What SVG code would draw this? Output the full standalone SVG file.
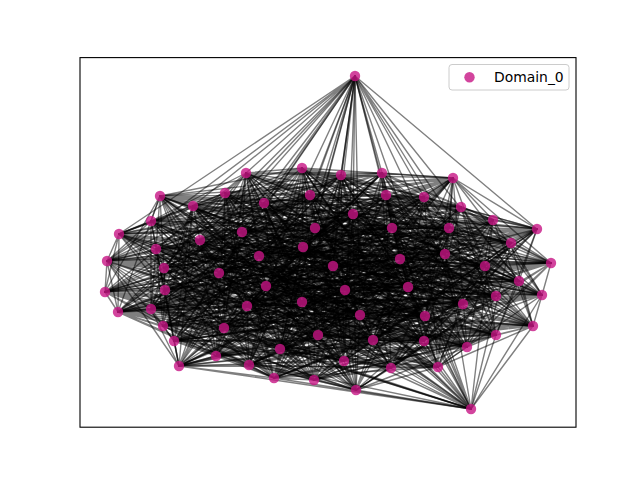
<svg xmlns="http://www.w3.org/2000/svg" width="640" height="480" viewBox="0 0 640 480">
<style>
.e{fill:none;stroke:#000;stroke-opacity:0.5;stroke-width:1.4;stroke-linejoin:round}
.n{fill:#C71585;fill-opacity:0.8}
.t{font-family:"DejaVu Sans","Liberation Sans",sans-serif;font-size:13.9px;fill:#000}
</style>
<rect x="0" y="0" width="640" height="480" fill="#fff"/>
<g id="edges">
<polyline class="e" points="355,76 246,173 355,76 341,175 355,76 382,173 355,76 193,206 355,76 264,203 355,76 310,195 355,76 424,197 355,76 537,229 355,76 119,234 355,76 200,240 355,76 353,214 355,76 449,228 355,76 107,261 355,76 219,273 355,76 303,247 355,76 333,266 355,76 485,266"/>
<polyline class="e" points="246,173 302,168 246,173 382,173 246,173 453,178 246,173 225,193 246,173 310,195 246,173 386,195 246,173 461,207 246,173 151,221 246,173 156,249 246,173 242,232 246,173 392,228 246,173 511,243 246,173 164,268 246,173 259,256 246,173 333,266 246,173 400,259 246,173 551,263"/>
<polyline class="e" points="302,168 341,175 302,168 453,178 302,168 160,196 302,168 264,203 302,168 386,195 302,168 424,197 302,168 493,220 302,168 119,234 302,168 200,240 302,168 315,228 302,168 449,228 302,168 107,261 302,168 219,273 302,168 303,247 302,168 400,259 302,168 445,254 302,168 105,292"/>
<polyline class="e" points="341,175 382,173 341,175 160,196 341,175 193,206 341,175 310,195 341,175 424,197 341,175 461,207 341,175 537,229 341,175 156,249 341,175 242,232 341,175 353,214 341,175 511,243 341,175 164,268 341,175 259,256 341,175 333,266 341,175 445,254 341,175 485,266 341,175 165,290"/>
<polyline class="e" points="382,173 453,178 382,173 193,206 382,173 225,193 382,173 386,195 382,173 461,207 382,173 493,220 382,173 151,221 382,173 200,240 382,173 315,228 382,173 392,228 382,173 107,261 382,173 219,273 382,173 303,247 382,173 400,259 382,173 485,266 382,173 551,263 382,173 266,286"/>
<polyline class="e" points="453,178 160,196 453,178 225,193 453,178 264,203 453,178 424,197 453,178 493,220 453,178 537,229 453,178 119,234 453,178 242,232 453,178 353,214 453,178 449,228 453,178 164,268 453,178 259,256 453,178 333,266 453,178 445,254 453,178 551,263 453,178 105,292 453,178 345,290"/>
<polyline class="e" points="160,196 193,206 160,196 264,203 160,196 310,195 160,196 461,207 160,196 537,229 160,196 151,221 160,196 156,249 160,196 315,228 160,196 392,228 160,196 511,243 160,196 219,273 160,196 303,247 160,196 400,259 160,196 485,266 160,196 105,292 160,196 165,290 160,196 408,287"/>
<polyline class="e" points="193,206 225,193 193,206 310,195 193,206 386,195 193,206 493,220 193,206 151,221 193,206 119,234 193,206 200,240 193,206 353,214 193,206 449,228 193,206 107,261 193,206 259,256 193,206 333,266 193,206 445,254 193,206 551,263 193,206 165,290 193,206 266,286 193,206 519,281"/>
<polyline class="e" points="225,193 264,203 225,193 386,195 225,193 424,197 225,193 537,229 225,193 119,234 225,193 156,249 225,193 242,232 225,193 392,228 225,193 511,243 225,193 164,268 225,193 303,247 225,193 400,259 225,193 485,266 225,193 105,292 225,193 266,286 225,193 345,290 225,193 542,295"/>
<polyline class="e" points="264,203 310,195 264,203 424,197 264,203 461,207 264,203 151,221 264,203 156,249 264,203 200,240 264,203 315,228 264,203 449,228 264,203 107,261 264,203 219,273 264,203 333,266 264,203 445,254 264,203 551,263 264,203 165,290 264,203 345,290 264,203 408,287 264,203 118,312"/>
<polyline class="e" points="310,195 386,195 310,195 461,207 310,195 493,220 310,195 119,234 310,195 200,240 310,195 242,232 310,195 353,214 310,195 511,243 310,195 164,268 310,195 259,256 310,195 400,259 310,195 485,266 310,195 105,292 310,195 266,286 310,195 408,287 310,195 519,281 310,195 151,309"/>
<polyline class="e" points="386,195 424,197 386,195 493,220 386,195 537,229 386,195 156,249 386,195 242,232 386,195 315,228 386,195 392,228 386,195 107,261 386,195 219,273 386,195 303,247 386,195 445,254 386,195 551,263 386,195 165,290 386,195 345,290 386,195 519,281 386,195 542,295 386,195 247,306"/>
<polyline class="e" points="424,197 461,207 424,197 537,229 424,197 151,221 424,197 200,240 424,197 315,228 424,197 353,214 424,197 449,228 424,197 164,268 424,197 259,256 424,197 333,266 424,197 485,266 424,197 105,292 424,197 266,286 424,197 408,287 424,197 542,295 424,197 118,312 424,197 302,302"/>
<polyline class="e" points="461,207 493,220 461,207 151,221 461,207 119,234 461,207 242,232 461,207 353,214 461,207 392,228 461,207 511,243 461,207 219,273 461,207 303,247 461,207 400,259 461,207 551,263 461,207 165,290 461,207 345,290 461,207 519,281 461,207 118,312 461,207 151,309 461,207 360,315"/>
<polyline class="e" points="493,220 537,229 493,220 119,234 493,220 156,249 493,220 315,228 493,220 392,228 493,220 449,228 493,220 107,261 493,220 259,256 493,220 333,266 493,220 445,254 493,220 105,292 493,220 266,286 493,220 408,287 493,220 542,295 493,220 151,309 493,220 247,306 493,220 425,316"/>
<polyline class="e" points="537,229 151,221 537,229 156,249 537,229 200,240 537,229 353,214 537,229 449,228 537,229 511,243 537,229 164,268 537,229 303,247 537,229 400,259 537,229 485,266 537,229 165,290 537,229 345,290 537,229 519,281 537,229 118,312 537,229 247,306 537,229 302,302 537,229 463,304"/>
<polyline class="e" points="151,221 119,234 151,221 200,240 151,221 242,232 151,221 392,228 151,221 511,243 151,221 107,261 151,221 219,273 151,221 333,266 151,221 445,254 151,221 551,263 151,221 266,286 151,221 408,287 151,221 542,295 151,221 151,309 151,221 302,302 151,221 360,315 151,221 496,296"/>
<polyline class="e" points="119,234 156,249 119,234 242,232 119,234 315,228 119,234 449,228 119,234 107,261 119,234 164,268 119,234 259,256 119,234 400,259 119,234 485,266 119,234 105,292 119,234 345,290 119,234 519,281 119,234 118,312 119,234 247,306 119,234 360,315 119,234 425,316 119,234 533,326"/>
<polyline class="e" points="156,249 200,240 156,249 315,228 156,249 353,214 156,249 511,243 156,249 164,268 156,249 219,273 156,249 303,247 156,249 445,254 156,249 551,263 156,249 165,290 156,249 408,287 156,249 542,295 156,249 151,309 156,249 302,302 156,249 425,316 156,249 463,304 156,249 163,326"/>
<polyline class="e" points="200,240 242,232 200,240 353,214 200,240 392,228 200,240 107,261 200,240 219,273 200,240 259,256 200,240 333,266 200,240 485,266 200,240 105,292 200,240 266,286 200,240 519,281 200,240 118,312 200,240 247,306 200,240 360,315 200,240 463,304 200,240 496,296 200,240 224,328"/>
<polyline class="e" points="242,232 315,228 242,232 392,228 242,232 449,228 242,232 164,268 242,232 259,256 242,232 303,247 242,232 400,259 242,232 551,263 242,232 165,290 242,232 345,290 242,232 542,295 242,232 151,309 242,232 302,302 242,232 425,316 242,232 496,296 242,232 533,326 242,232 318,335"/>
<polyline class="e" points="315,228 353,214 315,228 449,228 315,228 511,243 315,228 219,273 315,228 303,247 315,228 333,266 315,228 445,254 315,228 105,292 315,228 266,286 315,228 408,287 315,228 118,312 315,228 247,306 315,228 360,315 315,228 463,304 315,228 533,326 315,228 163,326 315,228 373,340"/>
<polyline class="e" points="353,214 392,228 353,214 511,243 353,214 107,261 353,214 259,256 353,214 333,266 353,214 400,259 353,214 485,266 353,214 165,290 353,214 345,290 353,214 519,281 353,214 151,309 353,214 302,302 353,214 425,316 353,214 496,296 353,214 163,326 353,214 224,328 353,214 424,341"/>
<polyline class="e" points="392,228 449,228 392,228 107,261 392,228 164,268 392,228 303,247 392,228 400,259 392,228 445,254 392,228 551,263 392,228 266,286 392,228 408,287 392,228 542,295 392,228 247,306 392,228 360,315 392,228 463,304 392,228 533,326 392,228 224,328 392,228 318,335 392,228 467,347"/>
<polyline class="e" points="449,228 511,243 449,228 164,268 449,228 219,273 449,228 333,266 449,228 445,254 449,228 485,266 449,228 105,292 449,228 345,290 449,228 519,281 449,228 118,312 449,228 302,302 449,228 425,316 449,228 496,296 449,228 163,326 449,228 318,335 449,228 373,340 449,228 496,335"/>
<polyline class="e" points="511,243 107,261 511,243 219,273 511,243 259,256 511,243 400,259 511,243 485,266 511,243 551,263 511,243 165,290 511,243 408,287 511,243 542,295 511,243 151,309 511,243 360,315 511,243 463,304 511,243 533,326 511,243 224,328 511,243 373,340 511,243 424,341 511,243 174,341"/>
<polyline class="e" points="107,261 164,268 107,261 259,256 107,261 303,247 107,261 445,254 107,261 551,263 107,261 105,292 107,261 266,286 107,261 519,281 107,261 118,312 107,261 247,306 107,261 425,316 107,261 496,296 107,261 163,326 107,261 318,335 107,261 424,341 107,261 467,347 107,261 216,356"/>
<polyline class="e" points="164,268 219,273 164,268 303,247 164,268 333,266 164,268 485,266 164,268 105,292 164,268 165,290 164,268 345,290 164,268 542,295 164,268 151,309 164,268 302,302 164,268 463,304 164,268 533,326 164,268 224,328 164,268 373,340 164,268 467,347 164,268 496,335 164,268 280,349"/>
<polyline class="e" points="219,273 259,256 219,273 333,266 219,273 400,259 219,273 551,263 219,273 165,290 219,273 266,286 219,273 408,287 219,273 118,312 219,273 247,306 219,273 360,315 219,273 496,296 219,273 163,326 219,273 318,335 219,273 424,341 219,273 496,335 219,273 174,341 219,273 344,361"/>
<polyline class="e" points="259,256 303,247 259,256 400,259 259,256 445,254 259,256 105,292 259,256 266,286 259,256 345,290 259,256 519,281 259,256 151,309 259,256 302,302 259,256 425,316 259,256 533,326 259,256 224,328 259,256 373,340 259,256 467,347 259,256 174,341 259,256 216,356 259,256 179,366"/>
<polyline class="e" points="303,247 333,266 303,247 445,254 303,247 485,266 303,247 165,290 303,247 345,290 303,247 408,287 303,247 542,295 303,247 247,306 303,247 360,315 303,247 463,304 303,247 163,326 303,247 318,335 303,247 424,341 303,247 496,335 303,247 216,356 303,247 280,349 303,247 249,365"/>
<polyline class="e" points="333,266 400,259 333,266 485,266 333,266 551,263 333,266 266,286 333,266 408,287 333,266 519,281 333,266 118,312 333,266 302,302 333,266 425,316 333,266 496,296 333,266 224,328 333,266 373,340 333,266 467,347 333,266 174,341 333,266 280,349 333,266 344,361 333,266 391,368"/>
<polyline class="e" points="400,259 445,254 400,259 551,263 400,259 105,292 400,259 345,290 400,259 519,281 400,259 542,295 400,259 151,309 400,259 360,315 400,259 463,304 400,259 533,326 400,259 318,335 400,259 424,341 400,259 496,335 400,259 216,356 400,259 344,361 400,259 179,366 400,259 438,367"/>
<polyline class="e" points="445,254 485,266 445,254 105,292 445,254 165,290 445,254 408,287 445,254 542,295 445,254 118,312 445,254 247,306 445,254 425,316 445,254 496,296 445,254 163,326 445,254 373,340 445,254 467,347 445,254 174,341 445,254 280,349 445,254 179,366 445,254 249,365 445,254 274,378"/>
<polyline class="e" points="485,266 551,263 485,266 165,290 485,266 266,286 485,266 519,281 485,266 118,312 485,266 151,309 485,266 302,302 485,266 463,304 485,266 533,326 485,266 224,328 485,266 424,341 485,266 496,335 485,266 216,356 485,266 344,361 485,266 249,365 485,266 391,368 485,266 314,380"/>
<polyline class="e" points="551,263 105,292 551,263 266,286 551,263 345,290 551,263 542,295 551,263 151,309 551,263 247,306 551,263 360,315 551,263 496,296 551,263 163,326 551,263 318,335 551,263 467,347 551,263 174,341 551,263 280,349 551,263 179,366 551,263 391,368 551,263 438,367 551,263 356,390"/>
<polyline class="e" points="105,292 165,290 105,292 345,290 105,292 408,287 105,292 118,312 105,292 247,306 105,292 302,302 105,292 425,316 105,292 533,326 105,292 224,328 105,292 373,340 105,292 496,335 105,292 216,356 105,292 344,361 105,292 249,365 105,292 438,367 105,292 274,378 105,292 471,409"/>
<polyline class="e" points="165,290 266,286 165,290 408,287 165,290 519,281 165,290 151,309 165,290 302,302 165,290 360,315 165,290 463,304 165,290 163,326 165,290 318,335 165,290 424,341 165,290 174,341 165,290 280,349 165,290 179,366 165,290 391,368 165,290 274,378 165,290 314,380 165,290 355,76"/>
<polyline class="e" points="266,286 345,290 266,286 519,281 266,286 542,295 266,286 247,306 266,286 360,315 266,286 425,316 266,286 496,296 266,286 224,328 266,286 373,340 266,286 467,347 266,286 216,356 266,286 344,361 266,286 249,365 266,286 438,367 266,286 314,380 266,286 356,390 266,286 246,173"/>
<polyline class="e" points="345,290 408,287 345,290 542,295 345,290 118,312 345,290 302,302 345,290 425,316 345,290 463,304 345,290 533,326 345,290 318,335 345,290 424,341 345,290 496,335 345,290 280,349 345,290 179,366 345,290 391,368 345,290 274,378 345,290 356,390 345,290 471,409 345,290 302,168"/>
<polyline class="e" points="408,287 519,281 408,287 118,312 408,287 151,309 408,287 360,315 408,287 463,304 408,287 496,296 408,287 163,326 408,287 373,340 408,287 467,347 408,287 174,341 408,287 344,361 408,287 249,365 408,287 438,367 408,287 314,380 408,287 471,409 408,287 355,76 408,287 341,175"/>
<polyline class="e" points="519,281 542,295 519,281 151,309 519,281 247,306 519,281 425,316 519,281 496,296 519,281 533,326 519,281 224,328 519,281 424,341 519,281 496,335 519,281 216,356 519,281 179,366 519,281 391,368 519,281 274,378 519,281 356,390 519,281 355,76 519,281 246,173 519,281 382,173"/>
<polyline class="e" points="542,295 118,312 542,295 247,306 542,295 302,302 542,295 463,304 542,295 533,326 542,295 163,326 542,295 318,335 542,295 467,347 542,295 174,341 542,295 280,349 542,295 249,365 542,295 438,367 542,295 314,380 542,295 471,409 542,295 246,173 542,295 302,168 542,295 453,178"/>
<polyline class="e" points="118,312 151,309 118,312 302,302 118,312 360,315 118,312 496,296 118,312 163,326 118,312 224,328 118,312 373,340 118,312 496,335 118,312 216,356 118,312 344,361 118,312 391,368 118,312 274,378 118,312 356,390 118,312 355,76 118,312 302,168 118,312 341,175 118,312 160,196"/>
<polyline class="e" points="151,309 247,306 151,309 360,315 151,309 425,316 151,309 533,326 151,309 224,328 151,309 318,335 151,309 424,341 151,309 174,341 151,309 280,349 151,309 179,366 151,309 438,367 151,309 314,380 151,309 471,409 151,309 246,173 151,309 341,175 151,309 382,173 151,309 193,206"/>
<polyline class="e" points="247,306 302,302 247,306 425,316 247,306 463,304 247,306 163,326 247,306 318,335 247,306 373,340 247,306 467,347 247,306 216,356 247,306 344,361 247,306 249,365 247,306 274,378 247,306 356,390 247,306 355,76 247,306 302,168 247,306 382,173 247,306 453,178 247,306 225,193"/>
<polyline class="e" points="302,302 360,315 302,302 463,304 302,302 496,296 302,302 224,328 302,302 373,340 302,302 424,341 302,302 496,335 302,302 280,349 302,302 179,366 302,302 391,368 302,302 314,380 302,302 471,409 302,302 246,173 302,302 341,175 302,302 453,178 302,302 160,196 302,302 264,203"/>
<polyline class="e" points="360,315 425,316 360,315 496,296 360,315 533,326 360,315 318,335 360,315 424,341 360,315 467,347 360,315 174,341 360,315 344,361 360,315 249,365 360,315 438,367 360,315 356,390 360,315 355,76 360,315 302,168 360,315 382,173 360,315 160,196 360,315 193,206 360,315 310,195"/>
<polyline class="e" points="425,316 463,304 425,316 533,326 425,316 163,326 425,316 373,340 425,316 467,347 425,316 496,335 425,316 216,356 425,316 179,366 425,316 391,368 425,316 274,378 425,316 471,409 425,316 246,173 425,316 341,175 425,316 453,178 425,316 193,206 425,316 225,193 425,316 386,195"/>
<polyline class="e" points="463,304 496,296 463,304 163,326 463,304 224,328 463,304 424,341 463,304 496,335 463,304 174,341 463,304 280,349 463,304 249,365 463,304 438,367 463,304 314,380 463,304 355,76 463,304 302,168 463,304 382,173 463,304 160,196 463,304 225,193 463,304 264,203 463,304 424,197"/>
<polyline class="e" points="496,296 533,326 496,296 224,328 496,296 318,335 496,296 467,347 496,296 174,341 496,296 216,356 496,296 344,361 496,296 391,368 496,296 274,378 496,296 356,390 496,296 246,173 496,296 341,175 496,296 453,178 496,296 193,206 496,296 264,203 496,296 310,195 496,296 461,207"/>
<polyline class="e" points="533,326 163,326 533,326 318,335 533,326 373,340 533,326 496,335 533,326 216,356 533,326 280,349 533,326 179,366 533,326 438,367 533,326 314,380 533,326 471,409 533,326 302,168 533,326 382,173 533,326 160,196 533,326 225,193 533,326 310,195 533,326 386,195 533,326 493,220"/>
<polyline class="e" points="163,326 224,328 163,326 373,340 163,326 424,341 163,326 174,341 163,326 280,349 163,326 344,361 163,326 249,365 163,326 274,378 163,326 356,390 163,326 355,76 163,326 341,175 163,326 453,178 163,326 193,206 163,326 264,203 163,326 386,195 163,326 424,197 163,326 537,229"/>
<polyline class="e" points="224,328 318,335 224,328 424,341 224,328 467,347 224,328 216,356 224,328 344,361 224,328 179,366 224,328 391,368 224,328 314,380 224,328 471,409 224,328 246,173 224,328 382,173 224,328 160,196 224,328 225,193 224,328 310,195 224,328 424,197 224,328 461,207 224,328 151,221"/>
<polyline class="e" points="318,335 373,340 318,335 467,347 318,335 496,335 318,335 280,349 318,335 179,366 318,335 249,365 318,335 438,367 318,335 356,390 318,335 355,76 318,335 302,168 318,335 453,178 318,335 193,206 318,335 264,203 318,335 386,195 318,335 461,207 318,335 493,220 318,335 119,234"/>
<polyline class="e" points="373,340 424,341 373,340 496,335 373,340 174,341 373,340 344,361 373,340 249,365 373,340 391,368 373,340 274,378 373,340 471,409 373,340 246,173 373,340 341,175 373,340 160,196 373,340 225,193 373,340 310,195 373,340 424,197 373,340 493,220 373,340 537,229 373,340 156,249"/>
<polyline class="e" points="424,341 467,347 424,341 174,341 424,341 216,356 424,341 179,366 424,341 391,368 424,341 438,367 424,341 314,380 424,341 355,76 424,341 302,168 424,341 382,173 424,341 193,206 424,341 264,203 424,341 386,195 424,341 461,207 424,341 537,229 424,341 151,221 424,341 200,240"/>
<polyline class="e" points="467,347 496,335 467,347 216,356 467,347 280,349 467,347 249,365 467,347 438,367 467,347 274,378 467,347 356,390 467,347 246,173 467,347 341,175 467,347 453,178 467,347 225,193 467,347 310,195 467,347 424,197 467,347 493,220 467,347 151,221 467,347 119,234 467,347 242,232"/>
<polyline class="e" points="496,335 174,341 496,335 280,349 496,335 344,361 496,335 391,368 496,335 274,378 496,335 314,380 496,335 471,409 496,335 302,168 496,335 382,173 496,335 160,196 496,335 264,203 496,335 386,195 496,335 461,207 496,335 537,229 496,335 119,234 496,335 156,249 496,335 315,228"/>
<polyline class="e" points="174,341 216,356 174,341 344,361 174,341 179,366 174,341 438,367 174,341 314,380 174,341 356,390 174,341 355,76 174,341 341,175 174,341 453,178 174,341 193,206 174,341 310,195 174,341 424,197 174,341 493,220 174,341 151,221 174,341 156,249 174,341 200,240 174,341 353,214"/>
<polyline class="e" points="216,356 280,349 216,356 179,366 216,356 249,365 216,356 274,378 216,356 356,390 216,356 471,409 216,356 246,173 216,356 382,173 216,356 160,196 216,356 225,193 216,356 386,195 216,356 461,207 216,356 537,229 216,356 119,234 216,356 200,240 216,356 242,232 216,356 392,228"/>
<polyline class="e" points="280,349 344,361 280,349 249,365 280,349 391,368 280,349 314,380 280,349 471,409 280,349 355,76 280,349 302,168 280,349 453,178 280,349 193,206 280,349 264,203 280,349 424,197 280,349 493,220 280,349 151,221 280,349 156,249 280,349 242,232 280,349 315,228 280,349 449,228"/>
<polyline class="e" points="344,361 179,366 344,361 391,368 344,361 438,367 344,361 356,390 344,361 355,76 344,361 246,173 344,361 341,175 344,361 160,196 344,361 225,193 344,361 310,195 344,361 461,207 344,361 537,229 344,361 119,234 344,361 200,240 344,361 315,228 344,361 353,214 344,361 511,243"/>
<polyline class="e" points="179,366 249,365 179,366 438,367 179,366 274,378 179,366 471,409 179,366 246,173 179,366 302,168 179,366 382,173 179,366 193,206 179,366 264,203 179,366 386,195 179,366 493,220 179,366 151,221 179,366 156,249 179,366 242,232 179,366 353,214 179,366 392,228 179,366 107,261"/>
<polyline class="e" points="249,365 391,368 249,365 274,378 249,365 314,380 249,365 355,76 249,365 302,168 249,365 341,175 249,365 453,178 249,365 225,193 249,365 310,195 249,365 424,197 249,365 537,229 249,365 119,234 249,365 200,240 249,365 315,228 249,365 392,228 249,365 449,228 249,365 164,268"/>
<polyline class="e" points="391,368 438,367 391,368 314,380 391,368 356,390 391,368 246,173 391,368 341,175 391,368 382,173 391,368 160,196 391,368 264,203 391,368 386,195 391,368 461,207 391,368 151,221 391,368 156,249 391,368 242,232 391,368 353,214 391,368 449,228 391,368 511,243 391,368 219,273"/>
<polyline class="e" points="438,367 274,378 438,367 356,390 438,367 471,409 438,367 302,168 438,367 382,173 438,367 453,178 438,367 193,206 438,367 310,195 438,367 424,197 438,367 493,220 438,367 119,234 438,367 200,240 438,367 315,228 438,367 392,228 438,367 511,243 438,367 107,261 438,367 259,256"/>
<polyline class="e" points="274,378 314,380 274,378 471,409 274,378 355,76 274,378 341,175 274,378 453,178 274,378 160,196 274,378 225,193 274,378 386,195 274,378 461,207 274,378 537,229 274,378 156,249 274,378 242,232 274,378 353,214 274,378 449,228 274,378 107,261 274,378 164,268 274,378 303,247"/>
<polyline class="e" points="314,380 356,390 314,380 355,76 314,380 246,173 314,380 382,173 314,380 160,196 314,380 193,206 314,380 264,203 314,380 424,197 314,380 493,220 314,380 151,221 314,380 200,240 314,380 315,228 314,380 392,228 314,380 511,243 314,380 164,268 314,380 219,273 314,380 333,266"/>
<polyline class="e" points="356,390 471,409 356,390 246,173 356,390 302,168 356,390 453,178 356,390 193,206 356,390 225,193 356,390 310,195 356,390 461,207 356,390 537,229 356,390 119,234 356,390 242,232 356,390 353,214 356,390 449,228 356,390 107,261 356,390 219,273 356,390 259,256 356,390 400,259"/>
<polyline class="e" points="471,409 355,76 471,409 302,168 471,409 341,175 471,409 160,196 471,409 225,193 471,409 264,203 471,409 386,195 471,409 493,220 471,409 151,221 471,409 156,249 471,409 315,228 471,409 392,228 471,409 511,243 471,409 164,268 471,409 259,256 471,409 303,247 471,409 445,254"/>
</g>
<g id="nodes">
<g id="n0"><circle class="n" cx="355" cy="76" r="5.2"/></g>
<g id="n1"><circle class="n" cx="246" cy="173" r="5.2"/></g>
<g id="n2"><circle class="n" cx="302" cy="168" r="5.2"/></g>
<g id="n3"><circle class="n" cx="341" cy="175" r="5.2"/></g>
<g id="n4"><circle class="n" cx="382" cy="173" r="5.2"/></g>
<g id="n5"><circle class="n" cx="453" cy="178" r="5.2"/></g>
<g id="n6"><circle class="n" cx="160" cy="196" r="5.2"/></g>
<g id="n7"><circle class="n" cx="193" cy="206" r="5.2"/></g>
<g id="n8"><circle class="n" cx="225" cy="193" r="5.2"/></g>
<g id="n9"><circle class="n" cx="264" cy="203" r="5.2"/></g>
<g id="n10"><circle class="n" cx="310" cy="195" r="5.2"/></g>
<g id="n11"><circle class="n" cx="386" cy="195" r="5.2"/></g>
<g id="n12"><circle class="n" cx="424" cy="197" r="5.2"/></g>
<g id="n13"><circle class="n" cx="461" cy="207" r="5.2"/></g>
<g id="n14"><circle class="n" cx="493" cy="220" r="5.2"/></g>
<g id="n15"><circle class="n" cx="537" cy="229" r="5.2"/></g>
<g id="n16"><circle class="n" cx="151" cy="221" r="5.2"/></g>
<g id="n17"><circle class="n" cx="119" cy="234" r="5.2"/></g>
<g id="n18"><circle class="n" cx="156" cy="249" r="5.2"/></g>
<g id="n19"><circle class="n" cx="200" cy="240" r="5.2"/></g>
<g id="n20"><circle class="n" cx="242" cy="232" r="5.2"/></g>
<g id="n21"><circle class="n" cx="315" cy="228" r="5.2"/></g>
<g id="n22"><circle class="n" cx="353" cy="214" r="5.2"/></g>
<g id="n23"><circle class="n" cx="392" cy="228" r="5.2"/></g>
<g id="n24"><circle class="n" cx="449" cy="228" r="5.2"/></g>
<g id="n25"><circle class="n" cx="511" cy="243" r="5.2"/></g>
<g id="n26"><circle class="n" cx="107" cy="261" r="5.2"/></g>
<g id="n27"><circle class="n" cx="164" cy="268" r="5.2"/></g>
<g id="n28"><circle class="n" cx="219" cy="273" r="5.2"/></g>
<g id="n29"><circle class="n" cx="259" cy="256" r="5.2"/></g>
<g id="n30"><circle class="n" cx="303" cy="247" r="5.2"/></g>
<g id="n31"><circle class="n" cx="333" cy="266" r="5.2"/></g>
<g id="n32"><circle class="n" cx="400" cy="259" r="5.2"/></g>
<g id="n33"><circle class="n" cx="445" cy="254" r="5.2"/></g>
<g id="n34"><circle class="n" cx="485" cy="266" r="5.2"/></g>
<g id="n35"><circle class="n" cx="551" cy="263" r="5.2"/></g>
<g id="n36"><circle class="n" cx="105" cy="292" r="5.2"/></g>
<g id="n37"><circle class="n" cx="165" cy="290" r="5.2"/></g>
<g id="n38"><circle class="n" cx="266" cy="286" r="5.2"/></g>
<g id="n39"><circle class="n" cx="345" cy="290" r="5.2"/></g>
<g id="n40"><circle class="n" cx="408" cy="287" r="5.2"/></g>
<g id="n41"><circle class="n" cx="519" cy="281" r="5.2"/></g>
<g id="n42"><circle class="n" cx="542" cy="295" r="5.2"/></g>
<g id="n43"><circle class="n" cx="118" cy="312" r="5.2"/></g>
<g id="n44"><circle class="n" cx="151" cy="309" r="5.2"/></g>
<g id="n45"><circle class="n" cx="247" cy="306" r="5.2"/></g>
<g id="n46"><circle class="n" cx="302" cy="302" r="5.2"/></g>
<g id="n47"><circle class="n" cx="360" cy="315" r="5.2"/></g>
<g id="n48"><circle class="n" cx="425" cy="316" r="5.2"/></g>
<g id="n49"><circle class="n" cx="463" cy="304" r="5.2"/></g>
<g id="n50"><circle class="n" cx="496" cy="296" r="5.2"/></g>
<g id="n51"><circle class="n" cx="533" cy="326" r="5.2"/></g>
<g id="n52"><circle class="n" cx="163" cy="326" r="5.2"/></g>
<g id="n53"><circle class="n" cx="224" cy="328" r="5.2"/></g>
<g id="n54"><circle class="n" cx="318" cy="335" r="5.2"/></g>
<g id="n55"><circle class="n" cx="373" cy="340" r="5.2"/></g>
<g id="n56"><circle class="n" cx="424" cy="341" r="5.2"/></g>
<g id="n57"><circle class="n" cx="467" cy="347" r="5.2"/></g>
<g id="n58"><circle class="n" cx="496" cy="335" r="5.2"/></g>
<g id="n59"><circle class="n" cx="174" cy="341" r="5.2"/></g>
<g id="n60"><circle class="n" cx="216" cy="356" r="5.2"/></g>
<g id="n61"><circle class="n" cx="280" cy="349" r="5.2"/></g>
<g id="n62"><circle class="n" cx="344" cy="361" r="5.2"/></g>
<g id="n63"><circle class="n" cx="179" cy="366" r="5.2"/></g>
<g id="n64"><circle class="n" cx="249" cy="365" r="5.2"/></g>
<g id="n65"><circle class="n" cx="391" cy="368" r="5.2"/></g>
<g id="n66"><circle class="n" cx="438" cy="367" r="5.2"/></g>
<g id="n67"><circle class="n" cx="274" cy="378" r="5.2"/></g>
<g id="n68"><circle class="n" cx="314" cy="380" r="5.2"/></g>
<g id="n69"><circle class="n" cx="356" cy="390" r="5.2"/></g>
<g id="n70"><circle class="n" cx="471" cy="409" r="5.2"/></g>
</g>
<rect x="80" y="57.6" width="496" height="369.6" fill="none" stroke="#000" stroke-width="1.1"/>
<g id="legend">
<rect x="449" y="64.5" width="120" height="25.5" rx="3" ry="3" fill="#fff" fill-opacity="0.8" stroke="#ccc" stroke-width="1"/>
<circle class="n" cx="469.5" cy="77.3" r="5.2"/>
<text class="t" x="494" y="82">Domain_0</text>
</g>
</svg>
